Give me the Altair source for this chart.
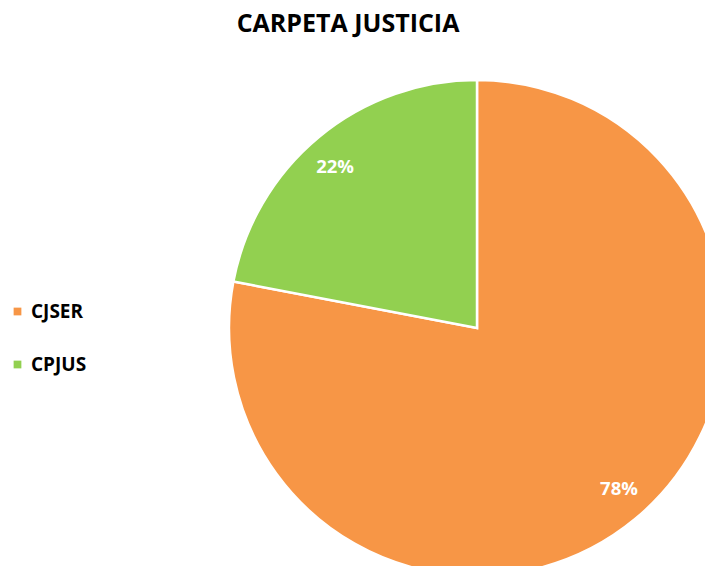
import altair as alt
import pandas as pd

categories = ["CJSER", "CPJUS"]
values = [78, 22]
labels = ["78%", "22%"]
colors = ["#F79646", "#92D050"]
title_text = "CARPETA JUSTICIA"

df = pd.DataFrame({"cat": categories, "value": values, "label": labels, "ord": [0, 1]})

W, H = 697, 558
CX, CY = 469, 320

base = alt.Chart(df).encode(
    theta=alt.Theta("value:Q", stack=True),
    order=alt.Order("ord:Q"),
)

pie = base.mark_arc(outerRadius=248, stroke="white", strokeWidth=2.5, clip=True).encode(
    color=alt.Color(
        "cat:N",
        scale=alt.Scale(domain=categories, range=colors),
        legend=alt.Legend(
            orient="none", legendX=0, legendY=294, title=None,
            symbolType="square", symbolSize=60, symbolStrokeWidth=0,
            labelFont="Open Sans", labelFontSize=19, labelFontWeight="bold",
            labelColor="#000000", rowPadding=33, labelOffset=4,
        ),
    ),
    x=alt.value(CX),
    y=alt.value(CY),
)

txt = base.mark_text(radius=215, thetaOffset=-0.03, font="Open Sans", fontSize=18.5,
                     fontWeight="bold", color="white", align="center",
                     baseline="middle").encode(
    text="label:N",
    x=alt.value(CX),
    y=alt.value(CY),
)

title = alt.Chart(pd.DataFrame({"t": [title_text]})).mark_text(
    font="Open Sans", fontSize=25, fontWeight="bold", color="#000000",
    align="center", baseline="middle"
).encode(text="t:N", x=alt.value(340), y=alt.value(16))

chart = alt.layer(pie, txt, title).properties(
    width=W, height=H,
    autosize=alt.AutoSizeParams(type="none"),
    padding=0,
    background="white",
).configure_view(strokeWidth=0, stroke="transparent")

chart.save("out.html", embed_options={"renderer": "svg", "actions": False})
